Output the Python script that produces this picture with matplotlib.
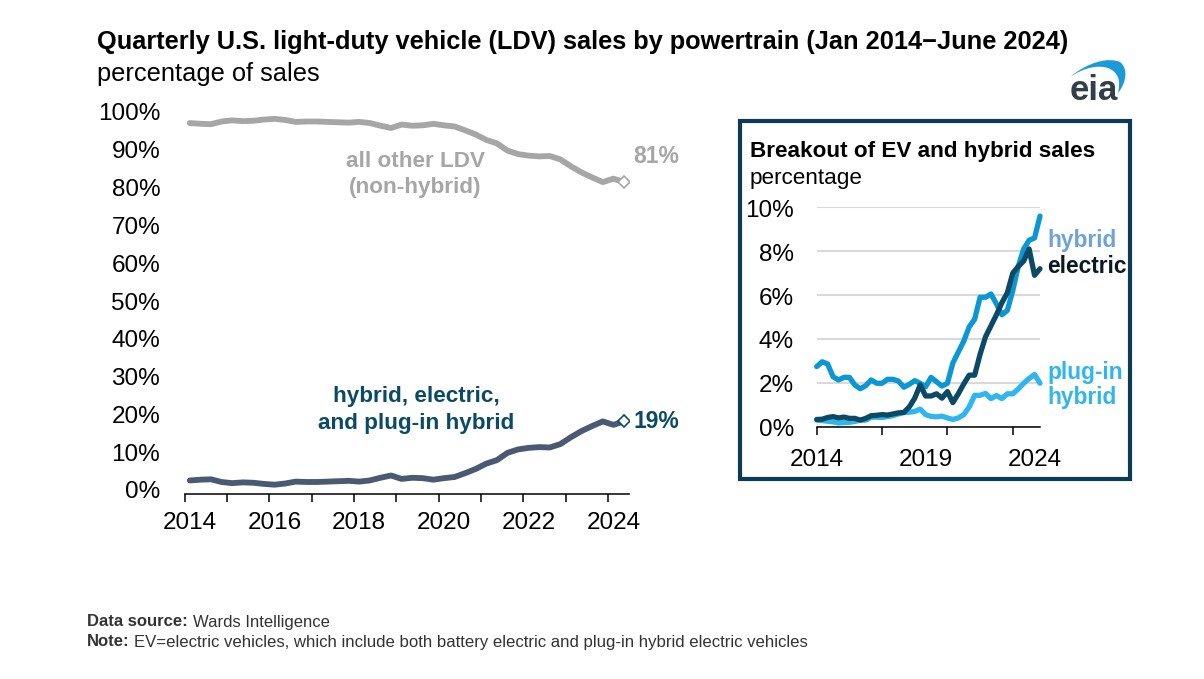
import matplotlib
matplotlib.use("Agg")
import matplotlib.pyplot as plt
from matplotlib.patches import Rectangle, PathPatch
from matplotlib.path import Path
from matplotlib.transforms import ScaledTranslation

plt.rcParams['font.family'] = ['Liberation Sans', 'DejaVu Sans']

W, H = 1204, 679
DPI = 100

# ---- data (percent of sales, quarterly Q1 2014 - Q2 2024)
other_ldv = [96.6, 96.4, 96.3, 97.0, 97.3, 97.1, 97.2, 97.5, 97.7, 97.4, 96.9, 97.0,
             97.0, 96.9, 96.8, 96.7, 96.9, 96.6, 95.9, 95.3, 96.2, 95.9, 96.0, 96.4,
             96.0, 95.7, 94.7, 93.6, 92.2, 91.3, 89.4, 88.5, 88.1, 87.9, 88.0, 87.1,
             85.3, 83.7, 82.4, 81.2, 82.1, 81.2]
hybrid_ev_phev = [3.4, 3.6, 3.7, 3.0, 2.7, 2.9, 2.8, 2.5, 2.3, 2.6, 3.1, 3.0,
                  3.0, 3.1, 3.2, 3.3, 3.1, 3.4, 4.1, 4.7, 3.8, 4.1, 4.0, 3.6,
                  4.0, 4.3, 5.3, 6.4, 7.8, 8.7, 10.6, 11.5, 11.9, 12.1, 12.0, 12.9,
                  14.7, 16.3, 17.6, 18.8, 17.9, 18.8]
hybrid = [2.74, 2.96, 2.86, 2.28, 2.13, 2.25, 2.25, 1.90, 1.73, 1.87, 2.13, 1.98,
          1.98, 2.16, 2.16, 2.08, 1.80, 1.93, 2.10, 1.98, 1.82, 2.25, 2.05, 1.85,
          1.98, 2.90, 3.40, 3.90, 4.55, 4.90, 5.90, 5.90, 6.05, 5.60, 5.10, 5.30,
          6.20, 7.30, 8.10, 8.50, 8.60, 9.60]
electric = [0.33, 0.34, 0.42, 0.46, 0.40, 0.44, 0.38, 0.38, 0.30, 0.38, 0.50, 0.52,
            0.55, 0.53, 0.58, 0.63, 0.65, 0.90, 1.30, 1.90, 1.40, 1.40, 1.50, 1.30,
            1.60, 1.10, 1.50, 1.95, 2.35, 2.35, 3.30, 4.10, 4.60, 5.10, 5.65, 6.10,
            7.00, 7.30, 7.55, 8.10, 6.90, 7.20]
plugin = [0.30, 0.28, 0.25, 0.22, 0.17, 0.19, 0.20, 0.24, 0.30, 0.30, 0.43, 0.43,
          0.42, 0.46, 0.50, 0.58, 0.65, 0.66, 0.70, 0.80, 0.55, 0.47, 0.45, 0.48,
          0.40, 0.33, 0.40, 0.55, 0.90, 1.43, 1.43, 1.52, 1.28, 1.42, 1.28, 1.50,
          1.50, 1.72, 1.98, 2.20, 2.38, 1.98]
main_years = ['2014', '2016', '2018', '2020', '2022', '2024']
main_yticks = list(range(0, 101, 10))
inset_years = ['2014', '2019', '2024']
inset_yticks = [0, 2, 4, 6, 8, 10]

GRAY = '#a6a6a6'
SLATE = '#4a5a72'
TEAL = '#0b4a66'
BLUE = '#0a97d3'
LIGHT = '#2fb6ee'
NAVY = '#0c3c55'

fig = plt.figure(figsize=(W / DPI, H / DPI), dpi=DPI, facecolor='white')


def px_axes(x0, x1, ytop, ybot):
    return fig.add_axes([x0 / W, 1 - ybot / H, (x1 - x0) / W, (ybot - ytop) / H], facecolor='none')


def txt(x, y, s, **kw):
    kw.setdefault('va', 'center')
    kw.setdefault('color', 'black')
    return fig.text(x / W, 1 - y / H, s, **kw)


def shift(label, dx_px, dy_px):
    label.set_transform(label.get_transform() +
                        ScaledTranslation(dx_px / DPI, -dy_px / DPI, fig.dpi_scale_trans))


# ---- inset frame
fig.add_artist(Rectangle((740 / W, 1 - 479 / H), 390 / W, 358 / H, transform=fig.transFigure,
                         fill=False, edgecolor=NAVY, linewidth=3.0, zorder=0))

# ---- main axes
ax = px_axes(184.5, 629.3, 110, 493.5)
ax.set_xlim(0, 42)
ax.set_ylim(0, 100)
xm = [i + 0.5 for i in range(len(other_ldv))]
ax.plot(xm, other_ldv, color=GRAY, lw=4.2, solid_capstyle='round', solid_joinstyle='round')
ax.plot(xm, hybrid_ev_phev, color=SLATE, lw=4.2, solid_capstyle='round', solid_joinstyle='round')
ax.plot(xm[-1:], other_ldv[-1:], marker='D', ms=6.5, mfc='white', mec=GRAY, mew=1.2, ls='none', zorder=5)
ax.plot(xm[-1:], hybrid_ev_phev[-1:], marker='D', ms=6.5, mfc='white', mec=TEAL, mew=1.2, ls='none', zorder=5)
for s in ['top', 'left', 'right']:
    ax.spines[s].set_visible(False)
ax.spines['bottom'].set_linewidth(1.1)
ax.xaxis.remove_overlapping_locs = False
ax.set_xticks(range(0, 41, 4))
ax.set_xticklabels([])
ax.tick_params(axis='x', which='major', length=5.8, width=1.1)
ax.set_xticks([i * 8 + 0.5 for i in range(len(main_years))], minor=True)
ax.set_xticklabels(main_years, minor=True, fontsize=17.5)
ax.tick_params(axis='x', which='minor', length=0, pad=13)
ax.set_yticks(main_yticks)
ax.set_yticklabels([f'{v}%' for v in main_yticks], fontsize=17.5)
ax.tick_params(axis='y', length=0, pad=17.5)
for v, lab in zip(main_yticks, ax.get_yticklabels()):
    shift(lab, 0, -3.5 + 0.055 * v)

# ---- inset axes
ins = px_axes(816.7, 1040, 207.3, 426.7)
ins.set_xlim(0, 41)
ins.set_ylim(0, 10)
ins.set_axisbelow(True)
xi = list(range(len(hybrid)))
ins.grid(axis='y', color='#d9d9d9', lw=1.5)
ins.plot(xi, plugin, color=LIGHT, lw=3.8, solid_capstyle='round', clip_on=False)
ins.plot(xi, hybrid, color=BLUE, lw=3.8, solid_capstyle='round', clip_on=False)
ins.plot(xi, electric, color=TEAL, lw=3.8, solid_capstyle='round', clip_on=False)
for s in ['top', 'left', 'right']:
    ins.spines[s].set_visible(False)
ins.spines['bottom'].set_linewidth(1.1)
ins.xaxis.remove_overlapping_locs = False
ins.set_xticks(range(0, 37, 12))
ins.set_xticklabels([])
ins.tick_params(axis='x', which='major', length=5.8, width=1.1)
ins.set_xticks([i * 20 for i in range(len(inset_years))], minor=True)
ins.set_xticklabels(inset_years, minor=True, fontsize=17.5)
ins.tick_params(axis='x', which='minor', length=0, pad=16)
ins.set_yticks(inset_yticks)
ins.set_yticklabels([f'{v}%' for v in inset_yticks], fontsize=17.5)
ins.tick_params(axis='y', length=0, pad=16.5)
for lab in ins.get_yticklabels():
    shift(lab, 0, 1)

# ---- text
txt(97, 42, 'Quarterly U.S. light-duty vehicle (LDV) sales by powertrain (Jan 2014\u2212June 2024)',
    fontsize=18.3, fontweight='bold')
txt(97, 73.5, 'percentage of sales', fontsize=18.3)
txt(415.5, 174.5, 'all other LDV\n(non-hybrid)', fontsize=16.2, fontweight='bold', color=GRAY,
    ha='center', linespacing=1.33)
txt(656, 156.5, '81%', fontsize=16.5, fontweight='bold', color=GRAY, ha='center')
txt(416, 410, 'hybrid, electric,\nand plug-in hybrid', fontsize=16.2, fontweight='bold', color=TEAL,
    ha='center', linespacing=1.33)
txt(656, 421.5, '19%', fontsize=16.5, fontweight='bold', color=TEAL, ha='center')

txt(750, 151.5, 'Breakout of EV and hybrid sales', fontsize=16.2, fontweight='bold')
txt(750, 178.5, 'percentage', fontsize=16.2)
txt(1047, 240, 'hybrid', fontsize=16.4, fontweight='bold', color='#6ea3d8')
txt(1047, 267, 'electric', fontsize=16.4, fontweight='bold', color='#0a1a22')
txt(1047, 372, 'plug-in', fontsize=16.4, fontweight='bold', color=LIGHT)
txt(1047, 397.5, 'hybrid', fontsize=16.4, fontweight='bold', color=LIGHT)

txt(87, 622, 'Data source:', fontsize=12, fontweight='bold', color='#333333')
txt(193, 622, 'Wards Intelligence', fontsize=12, color='#333333')
txt(87, 642, 'Note:', fontsize=12, fontweight='bold', color='#333333')
txt(134, 642, 'EV=electric vehicles, which include both battery electric and plug-in hybrid electric vehicles',
    fontsize=12.07, color='#333333')

# ---- logo
fig.text(1094 / W, 1 - 100 / H, 'eia', fontsize=25, color='#333f48', ha='center', va='baseline', fontweight='bold')


def P(x, y):
    return (x / W, 1 - y / H)


swoosh = Path([P(1070, 77), P(1088, 62), P(1108, 57), P(1120, 62),
               P(1128, 68), P(1127, 82), P(1118, 93),
               P(1121, 80), P(1118, 72), P(1108, 68),
               P(1098, 65), P(1085, 67), P(1070, 77)],
              [Path.MOVETO, Path.CURVE4, Path.CURVE4, Path.CURVE4,
               Path.CURVE4, Path.CURVE4, Path.CURVE4,
               Path.CURVE4, Path.CURVE4, Path.CURVE4,
               Path.CURVE4, Path.CURVE4, Path.CURVE4])
fig.add_artist(PathPatch(swoosh, transform=fig.transFigure, facecolor='#1a9bd7', edgecolor='none'))

fig.savefig('out.png', dpi=DPI, facecolor='white')
